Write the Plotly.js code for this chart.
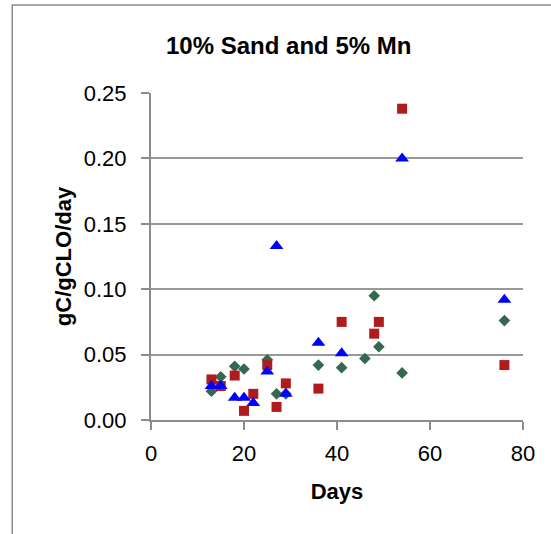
<!DOCTYPE html>
<html>
<head>
<meta charset="utf-8">
<script src="https://cdn.plot.ly/plotly-3.0.1.min.js"></script>
<style>html,body{margin:0;padding:0;background:#fff;}#chart{width:551px;height:534px;}</style>
</head>
<body>
<div id="chart"></div>
<script>
// Red squares series
const redDays = [13, 15, 18, 20, 22, 25, 27, 29, 36, 41, 48, 49, 54, 76];
const redRate = [0.031, 0.026, 0.034, 0.007, 0.020, 0.042, 0.010, 0.028, 0.024, 0.075, 0.066, 0.075, 0.238, 0.042];
// Blue triangles series
const blueDays = [13, 15, 18, 20, 22, 25, 27, 29, 36, 41, 54, 76];
const blueRate = [0.026, 0.026, 0.017, 0.017, 0.013, 0.037, 0.133, 0.020, 0.059, 0.051, 0.200, 0.092];
// Green diamonds series
const greenDays = [13, 15, 18, 20, 25, 27, 29, 36, 41, 46, 48, 49, 54, 76];
const greenRate = [0.022, 0.033, 0.041, 0.039, 0.046, 0.020, 0.020, 0.042, 0.040, 0.047, 0.095, 0.056, 0.036, 0.076];

const xTicks = [0, 20, 40, 60, 80];
const yTicks = [0, 0.05, 0.10, 0.15, 0.20, 0.25];

const FONT = '"Liberation Sans", Arial, sans-serif';

const traces = [
  {x: greenDays, y: greenRate, type: 'scatter', mode: 'markers', name: 'green',
   marker: {symbol: 'diamond', size: 9, color: '#35684f'}},
  {x: redDays, y: redRate, type: 'scatter', mode: 'markers', name: 'red',
   marker: {symbol: 'square', size: 10, color: '#b01c1c'}},
  {x: blueDays, y: blueRate, type: 'scatter', mode: 'markers', name: 'blue',
   marker: {symbol: 'triangle-up', size: 12, color: '#0000ff'}}
];

const layout = {
  width: 551, height: 534,
  margin: {l: 151, r: 28, t: 93, b: 114, pad: 0},
  paper_bgcolor: '#ffffff', plot_bgcolor: '#ffffff',
  showlegend: false,
  font: {family: FONT, size: 22, color: '#000'},
  title: {text: '<b>10% Sand and 5% Mn</b>', x: 0.524, xanchor: 'center', y: 0.914, yanchor: 'middle',
          font: {family: FONT, size: 24, color: '#000'}},
  xaxis: {
    range: [0, 80], tickvals: xTicks, ticktext: xTicks.map(String),
    showgrid: false, zeroline: false, showline: true, linecolor: '#8c8c8c', linewidth: 2,
    ticks: 'outside', ticklen: 8, tickwidth: 2, tickcolor: '#8c8c8c',
    ticklabelstandoff: 5,
    tickfont: {family: FONT, size: 22, color: '#000'},
    title: {text: '<b>Days</b>', font: {family: FONT, size: 22, color: '#000'}, standoff: 18}
  },
  yaxis: {
    range: [0, 0.25], tickvals: yTicks, ticktext: yTicks.map(v => v.toFixed(2)),
    showgrid: true, gridcolor: '#999999', gridwidth: 2,
    zeroline: false, showline: true, linecolor: '#8c8c8c', linewidth: 2,
    ticks: 'outside', ticklen: 8, tickwidth: 2, tickcolor: '#8c8c8c',
    ticklabelstandoff: 10,
    tickfont: {family: FONT, size: 22, color: '#000'},
    title: {text: '<b>gC/gCLO/day</b>', font: {family: FONT, size: 22, color: '#000'}, standoff: 6}
  },
  shapes: [
    {type: 'rect', xref: 'paper', yref: 'paper', x0: -0.373, x1: 1.3, y0: -0.6, y1: 1.269,
     line: {color: '#8c8c8c', width: 1.5}, fillcolor: 'rgba(0,0,0,0)', layer: 'below'}
  ]
};

Plotly.newPlot('chart', traces, layout, {staticPlot: true, displayModeBar: false});
</script>
</body>
</html>
